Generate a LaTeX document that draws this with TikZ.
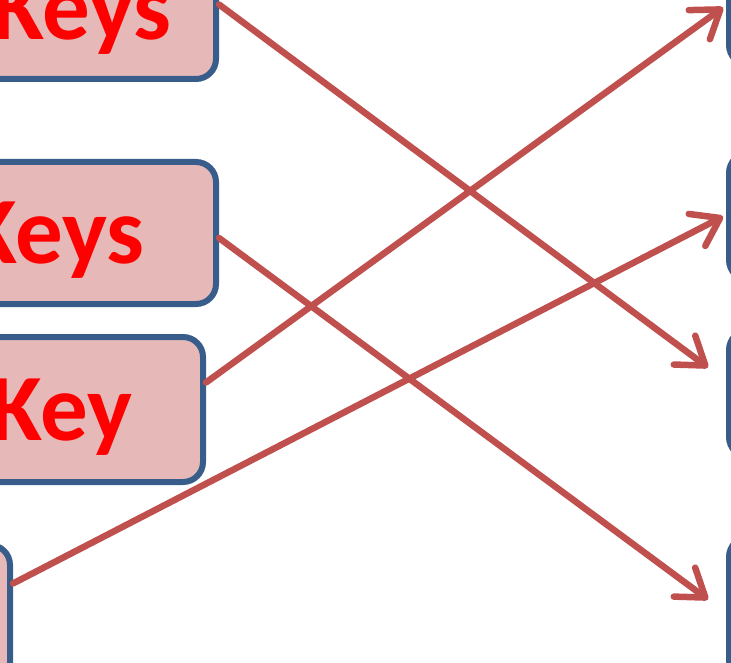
\documentclass[tikz,border=0pt]{standalone}
\usepackage{fontspec}
\setmainfont{Carlito}
\usepackage{tikz}
\usetikzlibrary{arrows.meta}

\definecolor{boxfill}{HTML}{E6B9B8}
\definecolor{boxline}{HTML}{385D8A}
\definecolor{arrowred}{HTML}{C0504D}

\begin{document}
\begin{tikzpicture}[x=1pt, y=-1pt]

\tikzstyle{connector} = [draw=arrowred, line width=6.5pt, line cap=round, -{Straight Barb[length=26pt, width=36pt, round]}]
\tikzstyle{keybox} = [rectangle, draw=boxline, fill=boxfill, line width=6pt, rounded corners=20pt, inner sep=0pt]
\tikzstyle{slotbox} = [rectangle, draw=boxline, fill=white, line width=6pt, rounded corners=20pt, inner sep=0pt]
\tikzstyle{keytext} = [anchor=base east, inner sep=0pt, text=red, font=\bfseries\fontsize{95}{100}\selectfont]

\useasboundingbox (0,0) rectangle (731,663);
\clip (0,0) rectangle (731,663);

% left column
\node [keybox, minimum width=316pt, minimum height=149pt] at (58,4.5) (keys_top) {};
\node [keybox, minimum width=316pt, minimum height=142pt] at (58,233) (keys_mid) {};
\node [keybox, minimum width=303pt, minimum height=145pt] at (51.5,409.5) (key_one) {};
\node [keybox, minimum width=210pt, minimum height=155pt] at (-95,622.5) (key_low) {};

\node [keytext] at (172,40) (keys_top_text) {Keys};
\node [keytext] at (145,263) (keys_mid_text) {Keys};
\node [keytext] at (133,440) (key_one_text) {Key};

% right column
\node [slotbox, minimum width=200pt, minimum height=145pt] at (829,-7.5) (slot_a) {};
\node [slotbox, minimum width=200pt, minimum height=127pt] at (829,216.5) (slot_b) {};
\node [slotbox, minimum width=200pt, minimum height=127pt] at (829,393.5) (slot_c) {};
\node [slotbox, minimum width=200pt, minimum height=143pt] at (829,608.5) (slot_d) {};

\path [connector] (keys_top.east) -- ([xshift=-18pt, yshift=26pt]slot_c.west);
\path [connector] ([yshift=-5pt]keys_mid.east) -- ([xshift=-18pt, yshift=9pt]slot_d.west);
\path [connector] ([yshift=27pt]key_one.east) -- ([xshift=-3pt, yshift=-15pt]slot_a.west);
\path [connector] ([yshift=39pt]key_low.east) -- ([xshift=-3pt]slot_b.west);

\end{tikzpicture}
\end{document}
